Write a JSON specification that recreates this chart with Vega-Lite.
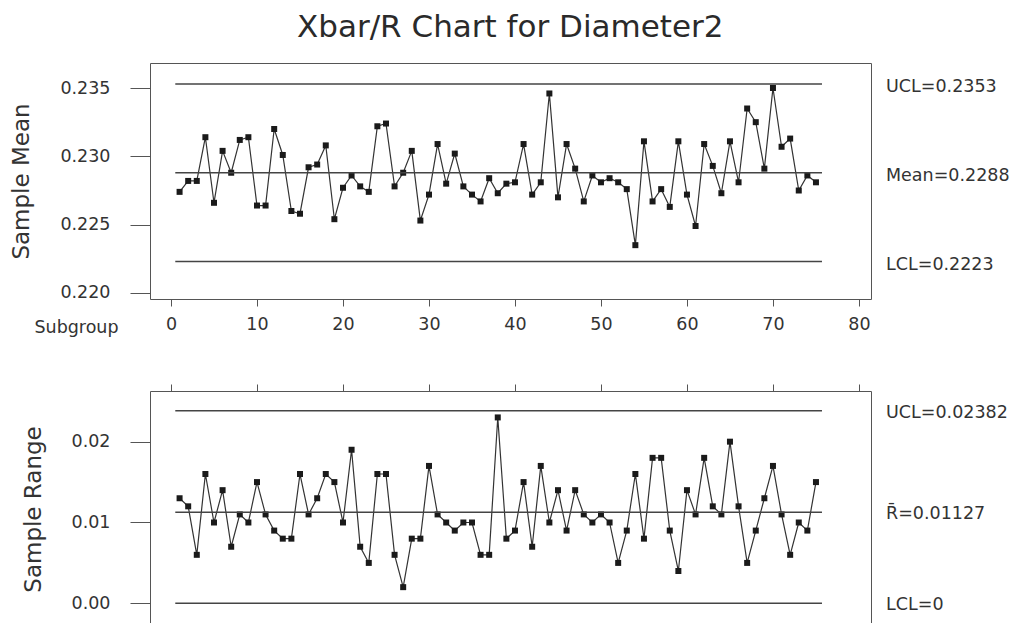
{
  "$schema": "https://vega.github.io/schema/vega-lite/v6.json",
  "autosize": {"type": "none"},
  "padding": {"left": 150, "top": 63, "right": 868, "bottom": 560},
  "background": "white",
  "title": {"text": "Xbar/R Chart for Diameter2", "fontSize": 31, "font": "DejaVu Sans", "fontWeight": "normal", "color": "#2a2a2a", "anchor": "middle", "baseline": "alphabetic", "offset": 26, "dy": 31},
  "config": {
    "font": "DejaVu Sans",
    "view": {"stroke": "#555", "strokeWidth": 1},
    "axis": {"grid": false, "domain": false, "labelFont": "DejaVu Sans", "labelFontSize": 17.5, "labelColor": "#333", "tickColor": "#555", "titleFont": "DejaVu Sans", "titleFontWeight": "normal", "titleColor": "#333"}
  },
  "bounds": "flush",
  "spacing": 92,
  "datasets": {
    "subgroups": [
      {"subgroup": 1, "mean": 0.2274, "range": 0.013},
      {"subgroup": 2, "mean": 0.2282, "range": 0.012},
      {"subgroup": 3, "mean": 0.2282, "range": 0.006},
      {"subgroup": 4, "mean": 0.2314, "range": 0.016},
      {"subgroup": 5, "mean": 0.2266, "range": 0.010},
      {"subgroup": 6, "mean": 0.2304, "range": 0.014},
      {"subgroup": 7, "mean": 0.2288, "range": 0.007},
      {"subgroup": 8, "mean": 0.2312, "range": 0.011},
      {"subgroup": 9, "mean": 0.2314, "range": 0.010},
      {"subgroup": 10, "mean": 0.2264, "range": 0.015},
      {"subgroup": 11, "mean": 0.2264, "range": 0.011},
      {"subgroup": 12, "mean": 0.2320, "range": 0.009},
      {"subgroup": 13, "mean": 0.2301, "range": 0.008},
      {"subgroup": 14, "mean": 0.2260, "range": 0.008},
      {"subgroup": 15, "mean": 0.2258, "range": 0.016},
      {"subgroup": 16, "mean": 0.2292, "range": 0.011},
      {"subgroup": 17, "mean": 0.2294, "range": 0.013},
      {"subgroup": 18, "mean": 0.2308, "range": 0.016},
      {"subgroup": 19, "mean": 0.2254, "range": 0.015},
      {"subgroup": 20, "mean": 0.2277, "range": 0.010},
      {"subgroup": 21, "mean": 0.2286, "range": 0.019},
      {"subgroup": 22, "mean": 0.2278, "range": 0.007},
      {"subgroup": 23, "mean": 0.2274, "range": 0.005},
      {"subgroup": 24, "mean": 0.2322, "range": 0.016},
      {"subgroup": 25, "mean": 0.2324, "range": 0.016},
      {"subgroup": 26, "mean": 0.2278, "range": 0.006},
      {"subgroup": 27, "mean": 0.2288, "range": 0.002},
      {"subgroup": 28, "mean": 0.2304, "range": 0.008},
      {"subgroup": 29, "mean": 0.2253, "range": 0.008},
      {"subgroup": 30, "mean": 0.2272, "range": 0.017},
      {"subgroup": 31, "mean": 0.2309, "range": 0.011},
      {"subgroup": 32, "mean": 0.2280, "range": 0.010},
      {"subgroup": 33, "mean": 0.2302, "range": 0.009},
      {"subgroup": 34, "mean": 0.2278, "range": 0.010},
      {"subgroup": 35, "mean": 0.2272, "range": 0.010},
      {"subgroup": 36, "mean": 0.2267, "range": 0.006},
      {"subgroup": 37, "mean": 0.2284, "range": 0.006},
      {"subgroup": 38, "mean": 0.2273, "range": 0.023},
      {"subgroup": 39, "mean": 0.2280, "range": 0.008},
      {"subgroup": 40, "mean": 0.2281, "range": 0.009},
      {"subgroup": 41, "mean": 0.2309, "range": 0.015},
      {"subgroup": 42, "mean": 0.2272, "range": 0.007},
      {"subgroup": 43, "mean": 0.2281, "range": 0.017},
      {"subgroup": 44, "mean": 0.2346, "range": 0.010},
      {"subgroup": 45, "mean": 0.2270, "range": 0.014},
      {"subgroup": 46, "mean": 0.2309, "range": 0.009},
      {"subgroup": 47, "mean": 0.2291, "range": 0.014},
      {"subgroup": 48, "mean": 0.2267, "range": 0.011},
      {"subgroup": 49, "mean": 0.2286, "range": 0.010},
      {"subgroup": 50, "mean": 0.2281, "range": 0.011},
      {"subgroup": 51, "mean": 0.2284, "range": 0.010},
      {"subgroup": 52, "mean": 0.2281, "range": 0.005},
      {"subgroup": 53, "mean": 0.2276, "range": 0.009},
      {"subgroup": 54, "mean": 0.2235, "range": 0.016},
      {"subgroup": 55, "mean": 0.2311, "range": 0.008},
      {"subgroup": 56, "mean": 0.2267, "range": 0.018},
      {"subgroup": 57, "mean": 0.2276, "range": 0.018},
      {"subgroup": 58, "mean": 0.2263, "range": 0.009},
      {"subgroup": 59, "mean": 0.2311, "range": 0.004},
      {"subgroup": 60, "mean": 0.2272, "range": 0.014},
      {"subgroup": 61, "mean": 0.2249, "range": 0.011},
      {"subgroup": 62, "mean": 0.2309, "range": 0.018},
      {"subgroup": 63, "mean": 0.2293, "range": 0.012},
      {"subgroup": 64, "mean": 0.2273, "range": 0.011},
      {"subgroup": 65, "mean": 0.2311, "range": 0.020},
      {"subgroup": 66, "mean": 0.2281, "range": 0.012},
      {"subgroup": 67, "mean": 0.2335, "range": 0.005},
      {"subgroup": 68, "mean": 0.2325, "range": 0.009},
      {"subgroup": 69, "mean": 0.2291, "range": 0.013},
      {"subgroup": 70, "mean": 0.2350, "range": 0.017},
      {"subgroup": 71, "mean": 0.2307, "range": 0.011},
      {"subgroup": 72, "mean": 0.2313, "range": 0.006},
      {"subgroup": 73, "mean": 0.2275, "range": 0.010},
      {"subgroup": 74, "mean": 0.2286, "range": 0.009},
      {"subgroup": 75, "mean": 0.2281, "range": 0.015}
    ],
    "xbarLimits": [
      {"value": 0.2353, "label": "UCL=0.2353"},
      {"value": 0.2288, "label": "Mean=0.2288"},
      {"value": 0.2223, "label": "LCL=0.2223"}
    ],
    "rLimits": [
      {"value": 0.02382, "label": "UCL=0.02382"},
      {"value": 0.01127, "label": "R\u0304=0.01127"},
      {"value": 0, "label": "LCL=0"}
    ]
  },
  "vconcat": [
    {
      "width": 721,
      "height": 236,
      "layer": [
        {
          "data": {"name": "subgroups"},
          "mark": {"type": "line", "color": "#333", "strokeWidth": 1.2},
          "encoding": {
            "x": {"field": "subgroup", "type": "quantitative",
                  "scale": {"domain": [-2.44, 81.4], "nice": false, "zero": false},
                  "axis": {"orient": "bottom", "values": [0, 10, 20, 30, 40, 50, 60, 70, 80], "tickSize": 7, "labelPadding": 9, "labelFlush": false, "labelOverlap": false,
                           "title": "Subgroup", "titleX": -74, "titleY": 28, "titleAlign": "center", "titleBaseline": "middle", "titleFontSize": 17.5, "titleAngle": 0}},
            "y": {"field": "mean", "type": "quantitative",
                  "scale": {"domain": [0.21956, 0.23683], "nice": false, "zero": false},
                  "axis": {"values": [0.220, 0.225, 0.230, 0.235], "format": ".3f", "tickSize": 20, "labelPadding": 20, "title": "Sample Mean", "titleFontSize": 23, "titlePadding": 26}}
          }
        },
        {
          "data": {"name": "subgroups"},
          "mark": {"type": "square", "filled": true, "color": "#1a1a1a", "size": 36, "opacity": 1},
          "encoding": {
            "x": {"field": "subgroup", "type": "quantitative", "scale": {"domain": [-2.44, 81.4], "nice": false, "zero": false}},
            "y": {"field": "mean", "type": "quantitative", "scale": {"domain": [0.21956, 0.23683], "nice": false, "zero": false}}
          }
        },
        {
          "data": {"name": "xbarLimits"},
          "mark": {"type": "rule", "color": "#444", "strokeWidth": 1.5},
          "encoding": {
            "x": {"datum": 0.5, "type": "quantitative"},
            "x2": {"datum": 75.7},
            "y": {"field": "value", "type": "quantitative"}
          }
        },
        {
          "data": {"name": "xbarLimits"},
          "mark": {"type": "text", "align": "left", "baseline": "middle", "dx": 15, "dy": 3, "fontSize": 17.5, "color": "#333", "font": "DejaVu Sans"},
          "encoding": {
            "x": {"datum": 81.4, "type": "quantitative"},
            "y": {"field": "value", "type": "quantitative"},
            "text": {"field": "label"}
          }
        }
      ]
    },
    {
      "width": 721,
      "height": 236,
      "layer": [
        {
          "data": {"name": "subgroups"},
          "mark": {"type": "line", "color": "#333", "strokeWidth": 1.2},
          "encoding": {
            "x": {"field": "subgroup", "type": "quantitative",
                  "scale": {"domain": [-2.44, 81.4], "nice": false, "zero": false},
                  "axis": {"orient": "top", "values": [0, 10, 20, 30, 40, 50, 60, 70, 80], "tickSize": 7, "labels": false, "title": null}},
            "y": {"field": "range", "type": "quantitative",
                  "scale": {"domain": [-0.00293, 0.02627], "nice": false, "zero": false},
                  "axis": {"values": [0, 0.01, 0.02], "format": ".2f", "tickSize": 20, "labelPadding": 20, "title": "Sample Range", "titleFontSize": 23, "titlePadding": 26}}
          }
        },
        {
          "data": {"name": "subgroups"},
          "mark": {"type": "square", "filled": true, "color": "#1a1a1a", "size": 36, "opacity": 1},
          "encoding": {
            "x": {"field": "subgroup", "type": "quantitative", "scale": {"domain": [-2.44, 81.4], "nice": false, "zero": false}},
            "y": {"field": "range", "type": "quantitative", "scale": {"domain": [-0.00293, 0.02627], "nice": false, "zero": false}}
          }
        },
        {
          "data": {"name": "rLimits"},
          "mark": {"type": "rule", "color": "#444", "strokeWidth": 1.5},
          "encoding": {
            "x": {"datum": 0.5, "type": "quantitative"},
            "x2": {"datum": 75.7},
            "y": {"field": "value", "type": "quantitative"}
          }
        },
        {
          "data": {"name": "rLimits"},
          "mark": {"type": "text", "align": "left", "baseline": "middle", "dx": 15, "dy": 2, "fontSize": 17.5, "color": "#333", "font": "DejaVu Sans"},
          "encoding": {
            "x": {"datum": 81.4, "type": "quantitative"},
            "y": {"field": "value", "type": "quantitative"},
            "text": {"field": "label"}
          }
        }
      ]
    }
  ]
}
